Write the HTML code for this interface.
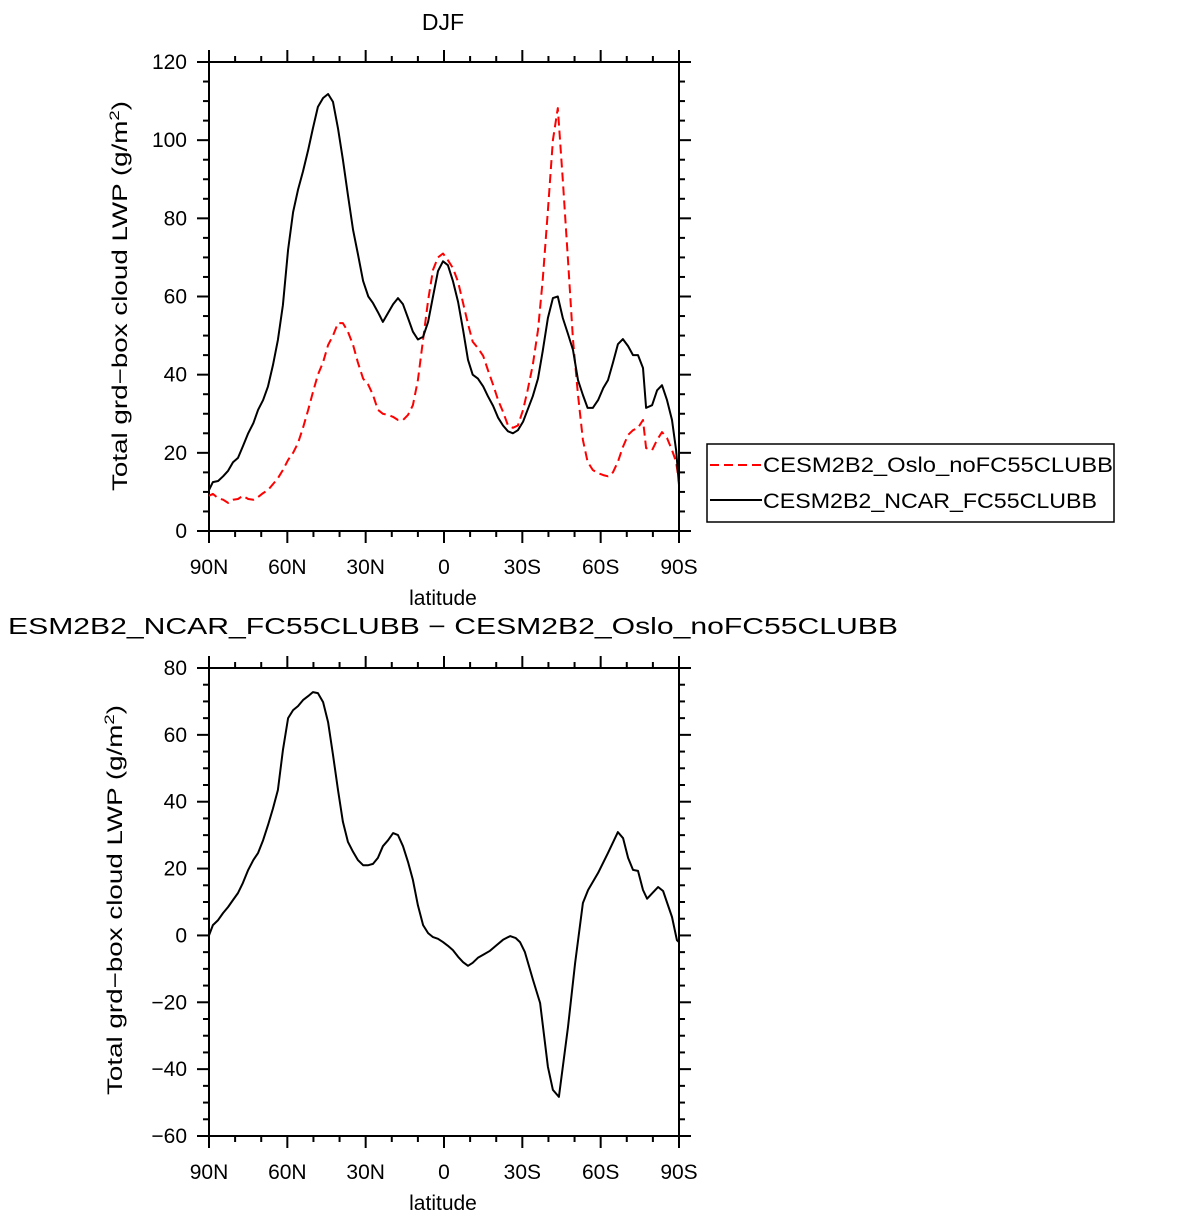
<!DOCTYPE html>
<html><head><meta charset="utf-8"><style>
html,body{margin:0;padding:0;background:#fff;}
svg text{font-family:"Liberation Sans",sans-serif;fill:#000;}
</style></head><body>
<svg id="fig" width="1196" height="1221" xmlns="http://www.w3.org/2000/svg">
<rect width="1196" height="1221" fill="#fff"/>
<text x="443" y="30" font-size="23" text-anchor="middle">DJF</text>
<text x="8" y="634" font-size="23" textLength="890" lengthAdjust="spacingAndGlyphs">ESM2B2_NCAR_FC55CLUBB − CESM2B2_Oslo_noFC55CLUBB</text>
<g>
<rect x="707" y="444" width="407" height="78" fill="none" stroke="#000" stroke-width="1.5"/>
<line x1="710" y1="465" x2="762" y2="465" stroke="#f00" stroke-width="2" stroke-dasharray="9,5"/>
<text x="763" y="472" font-size="21" textLength="350" lengthAdjust="spacingAndGlyphs">CESM2B2_Oslo_noFC55CLUBB</text>
<line x1="710" y1="500" x2="762" y2="500" stroke="#000" stroke-width="2"/>
<text x="763" y="508" font-size="21" textLength="334" lengthAdjust="spacingAndGlyphs">CESM2B2_NCAR_FC55CLUBB</text>
</g>
</svg>
<script>
const xTickLats=[90,60,30,0,-30,-60,-90];
const xTickLabels=["90N","60N","30N","0","30S","60S","90S"];
const topYTicks=[0,20,40,60,80,100,120];
const botYTicks=[-60,-40,-20,0,20,40,60,80];
const latNCAR=[90,88.5,86.5,84.6,82.7,80.8,78.9,77,75,73,71.2,69.3,67.4,65.5,63.6,61.7,59.7,57.8,55.9,54,52,50.2,48.3,46.3,44.4,42.5,40.6,38.7,36.8,34.8,33,31,29,27.2,25.3,23.4,21.4,19.5,17.6,15.7,13.8,11.9,10,8,6.1,4.2,2.3,0.4,-1.5,-3.4,-5.4,-7.3,-9.2,-11,-13,-15,-16.8,-18.8,-20.7,-22.6,-24.5,-26.4,-28.3,-30.3,-32,-34,-36,-37.8,-39.8,-41.7,-43.6,-45.5,-47.5,-49.4,-51.3,-53.2,-55,-57,-59,-61,-62.8,-64.7,-66.6,-68.5,-70.5,-72.4,-74.3,-76.2,-77.4,-79.7,-81.6,-83.5,-85.4,-87.3,-88.9,-90];
const valNCAR=[10.5,12.5,12.8,14,15.4,17.6,18.7,21.7,25,27.6,31,33.5,37,42.5,48.9,57.8,72,81.6,87.3,92,97.5,103,108.5,110.8,111.8,109.8,103,95,86,77,71,64,60,58.3,56,53.5,55.8,58,59.6,58,54.5,51,49,49.7,53.5,60,66.5,69,68,64,58.6,51.4,43.8,40,39,37,34.5,32,29,27,25.5,25,25.8,28,31,34.5,39,46,54.5,59.6,60,54.5,50.4,46.3,38.6,34.8,31.5,31.5,33.5,36.6,38.6,43,47.8,49.1,47.3,45,45,41.7,31.5,32.2,36,37.3,33.5,28.4,20.7,11.8];
const latOslo=latNCAR;
const valOslo=[9,9.5,8.4,8,7.2,8,8.2,9,8.2,8,8.7,9.7,10.5,12,13.5,15.6,18.2,20,22.5,26.4,31,35.5,40,43.2,47.6,50,53.2,53.2,51,47.6,43.2,39,37.4,34.8,31,30,29.7,29.2,28.4,28.4,29.7,32.2,38.6,49,59,66.8,70,71,69.3,67.3,63.7,58.3,53,48.4,46.8,44.8,41.2,37.4,33.5,30.5,27,26.4,27,31,36,42.5,51.4,64.2,82,100,108.2,89.8,69.3,48.9,34.8,23.3,17.7,15.6,14.8,14.3,14,15,17.7,21.5,24.6,25.8,26.4,28.4,21.2,20.7,23.3,25.3,23.8,20.7,17.7,12.5];
const latDiff=[90,88.5,86.5,84.6,82.7,80.8,78.9,77,75,73,71.2,69.3,67.4,65.5,63.6,61.7,59.7,57.8,55.9,54,52,50.2,48.3,46.3,44.4,42.5,40.6,38.7,36.8,34.8,33,31,29,27.2,25.3,23.4,21.4,19.5,17.6,15.7,13.8,11.9,10,8,6.1,4.2,2.3,0.4,-1.5,-3.4,-5.4,-7.3,-9.2,-11,-13,-15,-17.6,-20,-22.6,-25.3,-27.5,-29.1,-31,-34.1,-36.8,-39.8,-41.7,-44,-47.5,-50.2,-53.2,-55.2,-59,-62.8,-66.6,-68.6,-70.5,-72.4,-74.3,-76.2,-77.8,-82,-83.9,-87.3,-89.2,-90];
const valDiff=[0,3.1,4.6,6.7,8.5,10.6,12.7,15.7,19.6,22.6,24.7,28.5,33,38,43.5,55.4,65,67.4,68.6,70.4,71.6,72.8,72.5,69.8,63.8,54,43.5,34,28,25,22.6,21,21,21.4,23.2,26.7,28.5,30.6,30,26.7,22,16.6,9,3.1,0.7,-0.5,-1,-2,-3.1,-4.4,-6.4,-8,-9.1,-8.2,-6.7,-5.8,-4.6,-3,-1.3,-0.2,-0.8,-2,-5,-13.3,-20.2,-39.3,-46.2,-48.3,-27.4,-8.3,9.7,13.6,18.7,24.7,30.9,29.1,23.2,19.6,19.3,13.6,11,14.5,13.3,5.5,-1.4,-2];

const NS="http://www.w3.org/2000/svg";
const svg=document.getElementById('fig');
function mk(tag,attrs,parent){const e=document.createElementNS(NS,tag);for(const k in attrs)e.setAttribute(k,attrs[k]);(parent||svg).appendChild(e);return e;}
const X0=209,X1=679;
function xs(lat){return X0+(90-lat)/180*(X1-X0);}

function panel(name,yTop,yBot,vMin,vMax,yTicks,minorStep,titleX,titleY){
  const ys=v=>yBot-(v-vMin)/(vMax-vMin)*(yBot-yTop);
  const g=mk('g',{});
  
  
  for(let v=vMin;v<=vMax+1e-9;v+=minorStep){
    const y=ys(v);const major=yTicks.includes(Math.round(v));
    const L=major?12:6;
    mk('line',{x1:X0-L,y1:y,x2:X0,y2:y,stroke:'#000','stroke-width':2},g);
    mk('line',{x1:X1,y1:y,x2:X1+L,y2:y,stroke:'#000','stroke-width':2},g);
  }
  yTicks.forEach(v=>{
    const t=mk('text',{x:X0-22,y:ys(v)+7,'font-size':21,'text-anchor':'end'},g);
    
    
    t.textContent=(v<0?'−':'')+Math.abs(v);
  });
  for(let lat=90;lat>=-90;lat-=10){
    const x=xs(lat);const major=lat%30===0;const L=major?12:6;
    mk('line',{x1:x,y1:yBot,x2:x,y2:yBot+L,stroke:'#000','stroke-width':2},g);
    mk('line',{x1:x,y1:yTop-L,x2:x,y2:yTop,stroke:'#000','stroke-width':2},g);
  }
  xTickLats.forEach((lat,i)=>{
    const t=mk('text',{x:xs(lat),y:yBot+43,'font-size':21,'text-anchor':'middle'},g);
    
    
    t.textContent=xTickLabels[i];
  });
  const xt=mk('text',{x:443,y:yBot+74,'font-size':21,'text-anchor':'middle'},g);
  
  
  xt.textContent='latitude';
  const yt=mk('text',{x:0,y:0,'font-size':21,'text-anchor':'middle',textLength:390,lengthAdjust:'spacingAndGlyphs',transform:`translate(${titleX},${titleY}) rotate(-90)`},g);
  
  
  yt.innerHTML='Total grd−box cloud LWP (g/m<tspan baseline-shift="super" font-size="14">2</tspan>)';
  const fr=mk('rect',{x:X0,y:yTop,width:X1-X0,height:yBot-yTop,fill:'none',stroke:'#000','stroke-width':2},g);
  
  
  return ys;
}
function series(lats,vals,ys,name,attrs){
  const d=lats.map((l,i)=>(i?'L':'M')+xs(l).toFixed(1)+','+ys(vals[i]).toFixed(1)).join('');
  const p=mk('path',Object.assign({d:d,fill:'none','stroke-width':2,'stroke-linejoin':'round'},attrs));
  
  
}
const ysTop=panel('top',62,531,0,120,topYTicks,5,127,296);
series(latOslo,valOslo,ysTop,'oslo-line',{stroke:'#f00','stroke-dasharray':'9,5'});
series(latNCAR,valNCAR,ysTop,'ncar-line',{stroke:'#000'});
const ysBot=panel('bottom',668,1136,-60,80,botYTicks,5,122,900);
series(latDiff,valDiff,ysBot,'difference-line',{stroke:'#000'});
</script>
</body></html>
